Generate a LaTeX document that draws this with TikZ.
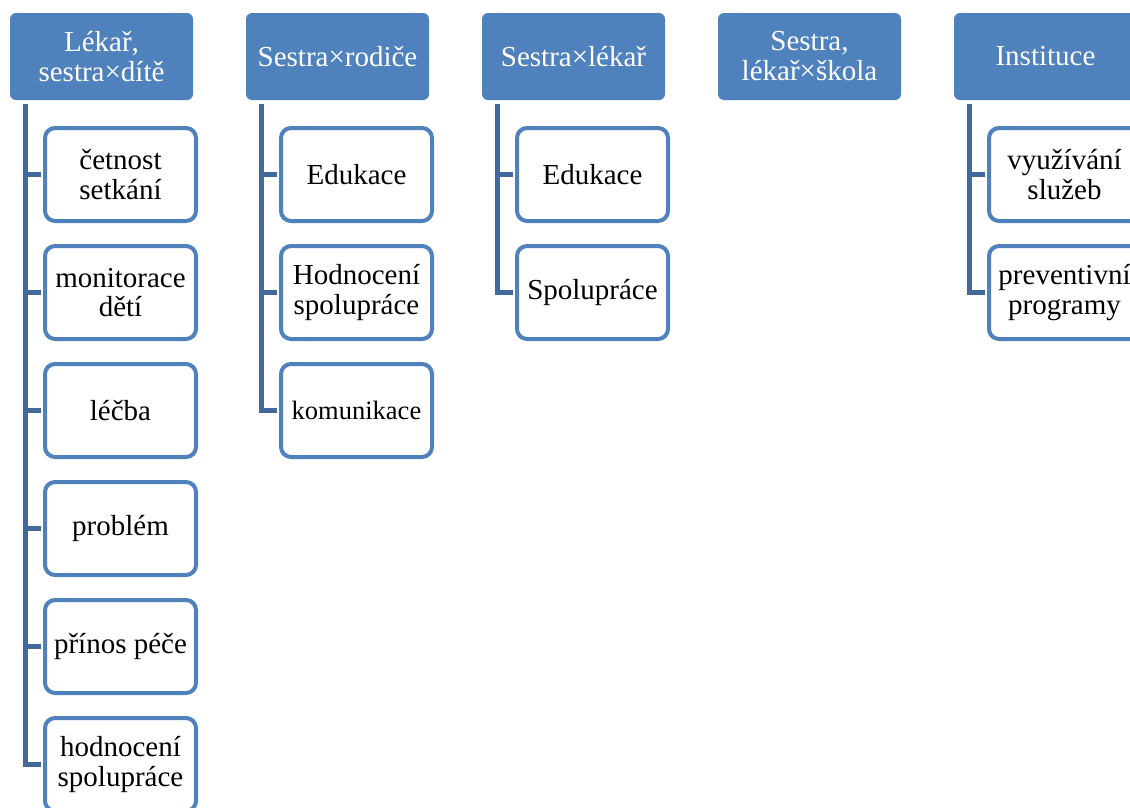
\documentclass[tikz,border=0pt]{standalone}
\usepackage{fontspec}
\setmainfont{Liberation Serif}
\begin{document}
\definecolor{headblue}{HTML}{4F81BD}
\definecolor{linkblue}{HTML}{41699B}
\begin{tikzpicture}[x=1pt,y=-1pt,
  head/.style={draw=none,fill=headblue,rounded corners=6pt,minimum width=183pt,minimum height=87pt,
    text=white,align=center,inner sep=0pt,font=\fontsize{29}{30}\selectfont},
  leaf/.style={draw=headblue,line width=4pt,fill=white,rounded corners=10pt,minimum width=151pt,minimum height=93pt,
    text=black,align=center,inner sep=0pt,font=\fontsize{29}{29.5}\selectfont},
  conn/.style={draw=linkblue,line width=5pt}]
\useasboundingbox (0,0) rectangle (1130,807);
\clip (0,0) rectangle (1130,807);

% column headers
\node[head] (h1) at (101.5,56.5) {Lékař,\\sestra×dítě};
\node[head] (h2) at (337.5,56.5) {Sestra×rodiče};
\node[head] (h3) at (573.5,56.5) {Sestra×lékař};
\node[head] (h4) at (809.5,56.5) {Sestra,\\lékař×škola};
\node[head] (h5) at (1045.5,56.5) {Instituce};

% column 1
\node[leaf] (a1) at (120.5,174.5) {četnost\\setkání};
\node[leaf] (a2) at (120.5,292.5) {monitorace\\dětí};
\node[leaf] (a3) at (120.5,410.5) {léčba};
\node[leaf] (a4) at (120.5,528.5) {problém};
\node[leaf] (a5) at (120.5,646.5) {přínos péče};
\node[leaf] (a6) at (120.5,764.5) {hodnocení\\spolupráce};

% column 2
\node[leaf] (b1) at (356.5,174.5) {Edukace};
\node[leaf] (b2) at (356.5,292.5) {Hodnocení\\spolupráce};
\node[leaf,font=\fontsize{26.5}{28}\selectfont] (b3) at (356.5,410.5) {komunikace};

% column 3
\node[leaf] (c1) at (592.5,174.5) {Edukace};
\node[leaf] (c2) at (592.5,292.5) {Spolupráce};

% column 5
\node[leaf] (e1) at (1064.5,174.5) {využívání\\služeb};
\node[leaf] (e2) at (1064.5,292.5) {preventivní\\programy};

% connectors
\foreach \h/\kids in {h1/{a1,a2,a3,a4,a5,a6},h2/{b1,b2,b3},h3/{c1,c2},h5/{e1,e2}}{
  \foreach \k in \kids{
    \draw[conn] ([xshift=16pt,yshift=-4pt]\h.south west) |- ([xshift=-2pt]\k.west);
  }
}
\end{tikzpicture}
\end{document}
